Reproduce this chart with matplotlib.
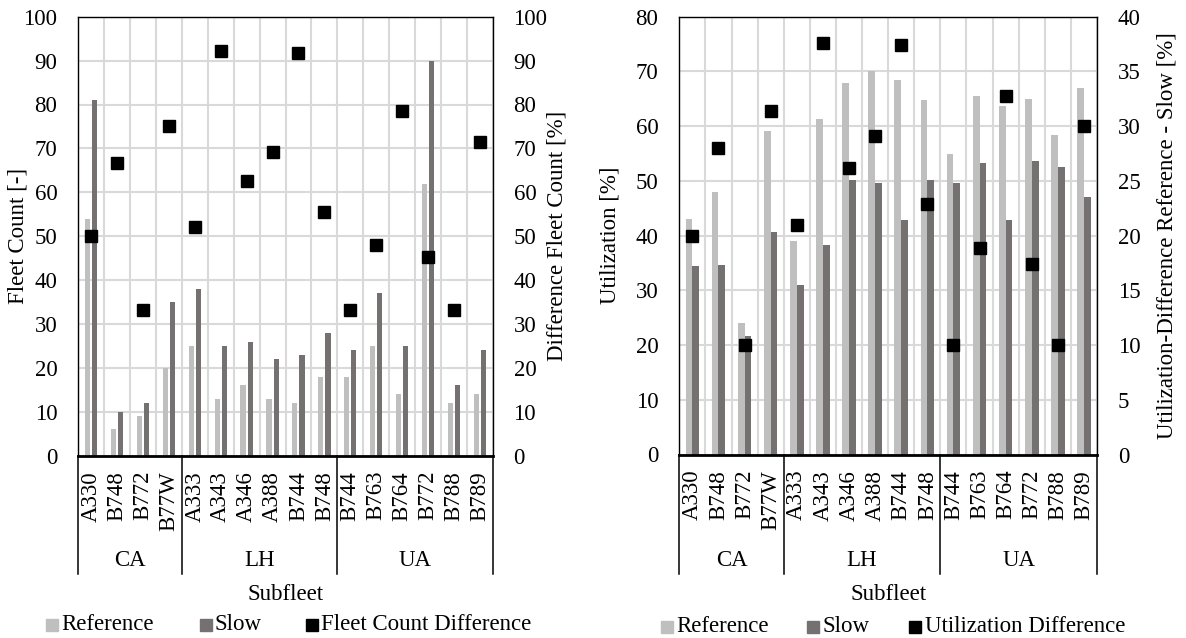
import matplotlib
matplotlib.use('Agg')
import matplotlib.pyplot as plt
import matplotlib.transforms as mtransforms
from matplotlib.lines import Line2D
import numpy as np

plt.rcParams['font.family'] = ['Liberation Serif', 'DejaVu Serif']
FS = 16.5

# ---------------- data ----------------
subfleets = ['A330', 'B748', 'B772', 'B77W',
             'A333', 'A343', 'A346', 'A388', 'B744', 'B748',
             'B744', 'B763', 'B764', 'B772', 'B788', 'B789']
airlines = ['CA', 'LH', 'UA']
airline_sizes = [4, 6, 6]

fleet_ref = [54, 6, 9, 20, 25, 13, 16, 13, 12, 18, 18, 25, 14, 62, 12, 14]
fleet_slow = [81, 10, 12, 35, 38, 25, 26, 22, 23, 28, 24, 37, 25, 90, 16, 24]
fleet_diff = [50.0, 66.7, 33.3, 75.0, 52.0, 92.3, 62.5, 69.2, 91.7, 55.6,
              33.3, 48.0, 78.6, 45.2, 33.3, 71.4]

util_ref = [43.0, 48.0, 24.0, 59.2, 39.0, 61.3, 67.8, 70.0, 68.4, 64.8,
            55.0, 65.6, 63.7, 64.9, 58.3, 67.0]
util_slow = [34.4, 34.6, 21.6, 40.6, 30.9, 38.3, 50.2, 49.6, 42.9, 50.1,
             49.6, 53.2, 42.9, 53.7, 52.5, 47.0]
util_diff = [20.0, 28.0, 10.0, 31.4, 21.0, 37.6, 26.2, 29.1, 37.4, 22.9,
             10.0, 18.9, 32.8, 17.4, 10.0, 30.0]

# ---------------- style ----------------
W, H = 1186, 638
C_REF = '#BFBFBF'
C_SLOW = '#767171'
C_GRID = '#D9D9D9'

fig = plt.figure(figsize=(W / 100, H / 100), dpi=100)


def px_rect(x0, x1, y0, y1):
    return [x0 / W, 1 - y1 / H, (x1 - x0) / W, (y1 - y0) / H]


def fx(x):
    return x / W


def fy(y):
    return 1 - y / H


def panel(rect_px, ref, slow, diff, lmax, lstep, rmax, rstep,
          ylab_l, ylab_r, ylab_l_x, ylab_r_x, bw, off, legend_items):
    x0, x1, y0, y1 = rect_px
    ax = fig.add_axes(px_rect(x0, x1, y0, y1))
    n = len(subfleets)
    x = np.arange(n)
    ax.bar(x - off, ref, width=bw, color=C_REF, zorder=2)
    ax.bar(x + off, slow, width=bw, color=C_SLOW, zorder=2)
    ax.set_xlim(-0.5, n - 0.5)
    ax.set_ylim(0, lmax)
    ax.set_yticks(np.arange(0, lmax + 0.01, lstep))
    ax.set_xticks(x)
    ax.set_xticklabels(subfleets, rotation=90, fontsize=FS)
    ax.set_xticks(np.arange(-0.5, n, 1.0), minor=True)
    ax.tick_params(axis='x', which='both', length=0, pad=11)
    ax.tick_params(axis='y', length=0, pad=15, labelsize=FS)
    ax.grid(axis='y', which='major', color=C_GRID, linewidth=1.5)
    ax.grid(axis='x', which='minor', color=C_GRID, linewidth=1.5)
    ax.grid(axis='x', which='major', visible=False)
    ax.set_axisbelow(True)
    for s in ['left', 'right', 'top']:
        ax.spines[s].set_color('black')
        ax.spines[s].set_linewidth(1.0)
    ax.spines['bottom'].set_linewidth(2.0)

    ax2 = ax.twinx()
    ax2.plot(x, diff, linestyle='None', marker='s', markersize=8.6,
             color='black', zorder=5)
    ax2.set_ylim(0, rmax)
    ax2.set_yticks(np.arange(0, rmax + 0.01, rstep))
    ax2.tick_params(axis='y', length=0, pad=15, labelsize=FS)
    for s in ['left', 'right', 'top', 'bottom']:
        ax2.spines[s].set_visible(False)

    # multi-level category separators
    hpx = y1 - y0
    trans = mtransforms.blended_transform_factory(ax.transData, ax.transAxes)
    ybot = (y1 - 574) / hpx
    bounds = np.concatenate([[0], np.cumsum(airline_sizes)]) - 0.5
    for b in bounds:
        ax.plot([b, b], [0, ybot], transform=trans, color='black',
                linewidth=1.1, clip_on=False, zorder=6)
    ylab_grp = (y1 - 560) / hpx
    for i, name in enumerate(airlines):
        cx = (bounds[i] + bounds[i + 1]) / 2
        ax.text(cx, ylab_grp, name, transform=trans, ha='center',
                va='center', fontsize=FS)

    # axis titles
    ymid = (y0 + y1) / 2
    fig.text(fx(ylab_l_x), fy(ymid), ylab_l, rotation=90, ha='center',
             va='center', fontsize=FS)
    fig.text(fx(ylab_r_x), fy(ymid), ylab_r, rotation=90, ha='center',
             va='center', fontsize=FS)
    fig.text(fx((x0 + x1) / 2), fy(594), 'Subfleet', ha='center',
             va='center', fontsize=FS)

    # legend
    for (mx, tx, ly, color, label, ms) in legend_items:
        fig.add_artist(Line2D([fx(mx)], [fy(ly)], transform=fig.transFigure,
                              marker='s', markersize=ms, color=color,
                              linestyle='None'))
        fig.text(fx(tx), fy(ly), label, ha='left', va='center', fontsize=FS)
    return ax, ax2


panel((78.3, 492.7, 16.7, 455.7), fleet_ref, fleet_slow, fleet_diff,
      100, 10, 100, 10, 'Fleet Count [-]', 'Difference Fleet Count [%]',
      18, 557, 0.2, 0.14,
      [(52, 61, 625, C_REF, 'Reference', 9),
       (205.5, 214, 625, C_SLOW, 'Slow', 9),
       (311.5, 321, 625, 'black', 'Fleet Count Difference', 8)])

panel((679.3, 1097, 16.7, 454.5), util_ref, util_slow, util_diff,
      80, 10, 40, 5, 'Utilization [%]',
      'Utilization-Difference Reference - Slow [%]',
      610, 1167, 0.26, 0.13,
      [(666.5, 676, 627, C_REF, 'Reference', 9),
       (813, 822, 627, C_SLOW, 'Slow', 9),
       (915.5, 925, 627, 'black', 'Utilization Difference', 8)])

fig.savefig('out.png', dpi=100)
